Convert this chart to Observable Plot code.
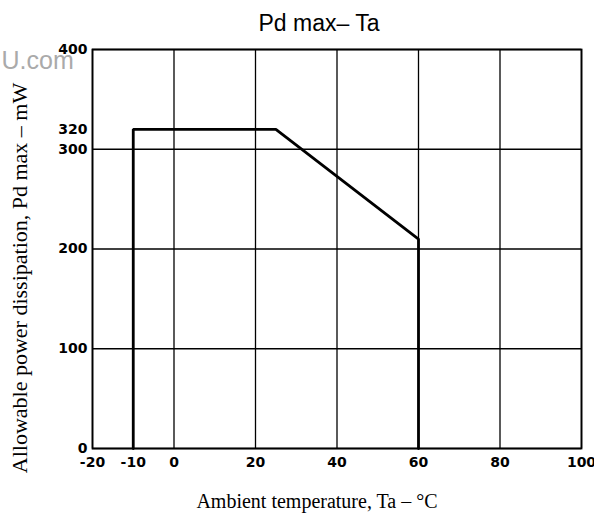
<!DOCTYPE html>
<html><head><meta charset="utf-8">
<script src="https://cdn.jsdelivr.net/npm/d3@7"></script>
<script src="https://cdn.jsdelivr.net/npm/@observablehq/plot@0.6"></script>
<style>body{margin:0;background:#fff}</style>
</head><body><div id="chart"></div>
<script>
const curveTa = [-10, -10, 25, 60, 60];
const curvePd = [0, 320, 320, 210, 0];
const xGrid = [-20, 0, 20, 40, 60, 80, 100];
const yGrid = [0, 100, 200, 300, 400];
const xTickLabels = [-20, -10, 0, 20, 40, 60, 80, 100];
const yTickLabels = [0, 100, 200, 300, 320, 400];
const title = "Pd max– Ta";
const xLabel = "Ambient temperature, Ta – °C";
const yLabel = "Allowable power dissipation, Pd max – mW";
const watermark = "U.com";

const curve = curveTa.map((t, i) => ({t, p: curvePd[i]}));
const serif = "'Liberation Serif', 'DejaVu Serif', serif";
const sans = "'Liberation Sans', Arial, sans-serif";
const tickFont = "'DejaVu Sans', sans-serif";

const chart = Plot.plot({
  width: 594, height: 513,
  marginLeft: 92, marginRight: 13, marginTop: 49, marginBottom: 65,
  x: {domain: [-20, 100]},
  y: {domain: [0, 400]},
  style: {fontFamily: sans, color: "#000", background: "#fff", overflow: "visible"},
  marks: [
    Plot.ruleX(xGrid, {stroke: "#000", strokeWidth: 1.3}),
    Plot.ruleY(yGrid, {stroke: "#000", strokeWidth: 1.3}),
    Plot.frame({stroke: "#000", strokeWidth: 1.8}),
    Plot.line(curve, {x: "t", y: "p", stroke: "#000", strokeWidth: 2.8, strokeLinejoin: "miter"}),
    Plot.axisX(xTickLabels, {tickSize: 0, tickPadding: 9, fontSize: 14, fontWeight: "bold", fontFamily: tickFont, label: null, tickFormat: d => String(d)}),
    Plot.axisY(yTickLabels, {tickSize: 0, tickPadding: 5, fontSize: 14, fontWeight: "bold", fontFamily: tickFont, label: null, tickFormat: d => String(d)}),
    Plot.text([title], {frameAnchor: "top", lineAnchor: "middle", dy: -26, dx: -18, fontSize: 23, fontFamily: sans, text: d => d}),
    Plot.text([xLabel], {frameAnchor: "bottom", lineAnchor: "middle", textAnchor: "middle", dy: 53, dx: -20, fontSize: 20, fontFamily: serif, text: d => d}),
    Plot.text([yLabel], {frameAnchor: "left", lineAnchor: "middle", textAnchor: "middle", dx: -73, dy: 29, rotate: -90, fontSize: 22, fontFamily: serif, text: d => d}),
    Plot.text([watermark], {frameAnchor: "top-left", lineAnchor: "middle", dx: -91, dy: 11, textAnchor: "start", fontSize: 25, fill: "#aaa", fontFamily: sans, text: d => d})
  ]
});
document.getElementById("chart").appendChild(chart);
</script>
</body></html>
